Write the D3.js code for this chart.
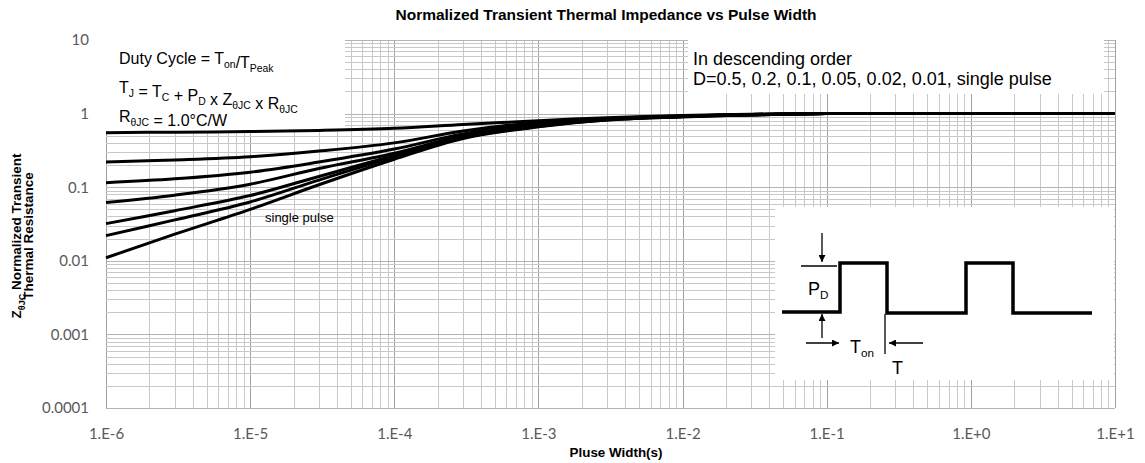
<!DOCTYPE html>
<html>
<head>
<meta charset="utf-8">
<script src="https://cdn.jsdelivr.net/npm/d3@7"></script>
<style>
  html, body { margin: 0; padding: 0; background: #fff; }
  svg { display: block; }
</style>
</head>
<body>
<svg id="chart" width="1145" height="463"></svg>
<script>
// ---------- data ----------
const pulseWidth = [1e-6, 3e-6, 1e-5, 3e-5, 1e-4, 3e-4, 1e-3, 3e-3, 1e-2, 3e-2, 1e-1, 1, 10];
const dutyLabels = ["0.5", "0.2", "0.1", "0.05", "0.02", "0.01", "single pulse"];
const zD050 = [0.55, 0.56, 0.57, 0.59, 0.63, 0.71, 0.80, 0.88, 0.94, 0.98, 1.0, 1.0, 1.0];
const zD020 = [0.22, 0.235, 0.26, 0.31, 0.40, 0.58, 0.76, 0.86, 0.93, 0.97, 1.0, 1.0, 1.0];
const zD010 = [0.115, 0.13, 0.16, 0.22, 0.33, 0.53, 0.72, 0.85, 0.92, 0.97, 1.0, 1.0, 1.0];
const zD005 = [0.062, 0.078, 0.11, 0.18, 0.29, 0.50, 0.70, 0.84, 0.92, 0.97, 1.0, 1.0, 1.0];
const zD002 = [0.032, 0.048, 0.077, 0.14, 0.27, 0.48, 0.68, 0.83, 0.91, 0.96, 1.0, 1.0, 1.0];
const zD001 = [0.022, 0.036, 0.063, 0.125, 0.256, 0.47, 0.67, 0.82, 0.91, 0.96, 1.0, 1.0, 1.0];
const zSingle = [0.011, 0.023, 0.050, 0.108, 0.24, 0.46, 0.66, 0.82, 0.90, 0.96, 1.0, 1.0, 1.0];
const seriesValues = [zD050, zD020, zD010, zD005, zD002, zD001, zSingle];

const xTickValues = [1e-6, 1e-5, 1e-4, 1e-3, 1e-2, 1e-1, 1, 10];
const xTickLabels = ["1.E-6", "1.E-5", "1.E-4", "1.E-3", "1.E-2", "1.E-1", "1.E+0", "1.E+1"];
const yTickValues = [1e-4, 1e-3, 1e-2, 1e-1, 1, 10];
const yTickLabels = ["0.0001", "0.001", "0.01", "0.1", "1", "10"];

// inset waveform (box-local units)
const waveX = [7, 65, 65, 112, 112, 191, 191, 238, 238, 317];
const waveY = [105, 105, 56, 56, 106, 106, 56, 56, 106, 106];

// ---------- layout ----------
const W = 1145, H = 463;
const m = { left: 106, right: 30, top: 40, bottom: 55 };
const svg = d3.select("#chart");

const x = d3.scaleLog().domain([1e-6, 10]).range([m.left, W - m.right]);
const y = d3.scaleLog().domain([1e-4, 10]).range([H - m.bottom, m.top]);

const AX_FONT = "Lato, 'Open Sans', sans-serif";
const TXT_FONT = "'Liberation Sans', Arial, sans-serif";

// ---------- grid ----------
function logGrid(domain) {
  const out = [];
  let d = domain[0];
  while (d < domain[1] * 0.999) {
    for (let k = 1; k <= 9; k++) out.push({ v: k * d, major: k === 1 });
    d *= 10;
  }
  out.push({ v: domain[1], major: true });
  return out;
}
const gGrid = svg.append("g");
gGrid.selectAll("line.v").data(logGrid(x.domain())).join("line")
  .attr("x1", d => Math.round(x(d.v)) + 0.5).attr("x2", d => Math.round(x(d.v)) + 0.5)
  .attr("y1", y(10)).attr("y2", y(1e-4))
  .attr("stroke", d => d.major ? "#a0a0a0" : "#c8c8c8").attr("stroke-width", 1);
gGrid.selectAll("line.h").data(logGrid(y.domain())).join("line")
  .attr("y1", d => Math.round(y(d.v)) + 0.5).attr("y2", d => Math.round(y(d.v)) + 0.5)
  .attr("x1", x(1e-6)).attr("x2", x(10))
  .attr("stroke", d => d.major ? "#b4b4b4" : "#c8c8c8").attr("stroke-width", 1);

// ---------- axes ----------
const xAxis = d3.axisBottom(x).tickValues(xTickValues)
  .tickFormat((d, i) => xTickLabels[i]).tickSize(0).tickPadding(20);
const gx = svg.append("g").attr("transform", `translate(0,${y(1e-4)})`).call(xAxis);
gx.select(".domain").remove();
gx.selectAll("text").attr("font-family", AX_FONT).attr("font-size", 15).attr("fill", "#595959");

const yAxis = d3.axisLeft(y).tickValues(yTickValues)
  .tickFormat((d, i) => yTickLabels[i]).tickSize(0).tickPadding(17);
const gy = svg.append("g").attr("transform", `translate(${x(1e-6)},0)`).call(yAxis);
gy.select(".domain").remove();
gy.selectAll("text").attr("font-family", AX_FONT).attr("font-size", 15).attr("fill", "#595959");

// ---------- legend boxes ----------
function sub(textSel, parts, size) {
  parts.forEach(p => {
    if (p.sub) {
      textSel.append("tspan").attr("font-size", size * 0.65).attr("dy", 4).text(p.t);
      textSel.append("tspan").attr("dy", -4).text("");
    } else {
      textSel.append("tspan").text(p.t);
    }
  });
}
svg.append("rect").attr("x", 106).attr("y", 40).attr("width", 239).attr("height", 91).attr("fill", "#fff");
const LF = 16;
const lines1 = [
  [{ t: "Duty Cycle = T" }, { t: "on", sub: 1 }, { t: "/T" }, { t: "Peak", sub: 1 }],
  [{ t: "T" }, { t: "J", sub: 1 }, { t: " = T" }, { t: "C", sub: 1 }, { t: " + P" }, { t: "D", sub: 1 }, { t: " x Z" }, { t: "θJC", sub: 1 }, { t: " x R" }, { t: "θJC", sub: 1 }],
  [{ t: "R" }, { t: "θJC", sub: 1 }, { t: " = 1.0°C/W" }]
];
lines1.forEach((parts, i) => {
  const t = svg.append("text").attr("x", 119).attr("y", 64 + i * 29)
    .attr("font-family", TXT_FONT).attr("font-size", LF).attr("fill", "#000");
  sub(t, parts, LF);
});

svg.append("rect").attr("x", 688).attr("y", 40).attr("width", 416).attr("height", 54).attr("fill", "#fff");
svg.append("text").attr("x", 693).attr("y", 65).attr("font-family", TXT_FONT).attr("font-size", 18)
  .text("In descending order");
svg.append("text").attr("x", 693).attr("y", 85).attr("font-family", TXT_FONT).attr("font-size", 18)
  .text("D=" + dutyLabels.join(", "));

// ---------- curves ----------
const line = d3.line().x(d => x(d[0])).y(d => y(d[1])).curve(d3.curveCatmullRom.alpha(0.5));
svg.append("g").selectAll("path").data(seriesValues).join("path")
  .attr("d", vals => line(pulseWidth.map((p, i) => [p, vals[i]])))
  .attr("fill", "none").attr("stroke", "#000").attr("stroke-width", 3);

svg.append("text").attr("x", 265).attr("y", 222).attr("font-family", TXT_FONT).attr("font-size", 13)
  .attr("fill", "#000").text("single pulse");

// ---------- inset ----------
const ix = d3.scaleLinear().domain([0, 339]).range([775, 1114]);
const iy = d3.scaleLinear().domain([0, 173]).range([207, 380]);
svg.append("rect").attr("x", ix(0)).attr("y", iy(0)).attr("width", ix(339) - ix(0)).attr("height", iy(173) - iy(0)).attr("fill", "#fff");
svg.append("path").attr("d", d3.line()(waveX.map((v, i) => [ix(v), iy(waveY[i])])))
  .attr("fill", "none").attr("stroke", "#000").attr("stroke-width", 3.5).attr("stroke-linejoin", "miter");

const defs = svg.append("defs");
defs.append("marker").attr("id", "ah").attr("viewBox", "0 0 10 10").attr("refX", 10).attr("refY", 5)
  .attr("markerWidth", 7).attr("markerHeight", 7).attr("markerUnits", "userSpaceOnUse").attr("orient", "auto")
  .append("path").attr("d", "M0,0L10,5L0,10z").attr("fill", "#000");
const thin = [
  { a: [26, 59], b: [62, 59], arrow: false },
  { a: [47, 26], b: [47, 55], arrow: true },
  { a: [47, 131], b: [47, 107], arrow: true },
  { a: [31, 136], b: [64, 136], arrow: true },
  { a: [110, 107], b: [110, 147], arrow: false },
  { a: [148, 136], b: [114, 136], arrow: true }
];
svg.append("g").selectAll("line").data(thin).join("line")
  .attr("x1", d => ix(d.a[0])).attr("y1", d => iy(d.a[1]))
  .attr("x2", d => ix(d.b[0])).attr("y2", d => iy(d.b[1]))
  .attr("stroke", "#000").attr("stroke-width", 1.3)
  .attr("marker-end", d => d.arrow ? "url(#ah)" : null);

const pd = svg.append("text").attr("x", ix(33)).attr("y", iy(88)).attr("font-family", TXT_FONT).attr("font-size", 18);
sub(pd, [{ t: "P" }, { t: "D", sub: 1 }], 18);
const ton = svg.append("text").attr("x", ix(75)).attr("y", iy(146)).attr("font-family", TXT_FONT).attr("font-size", 18);
sub(ton, [{ t: "T" }, { t: "on", sub: 1 }], 18);
svg.append("text").attr("x", ix(117)).attr("y", iy(167)).attr("font-family", TXT_FONT).attr("font-size", 18).text("T");

// ---------- titles ----------
svg.append("text").attr("x", 606).attr("y", 20).attr("text-anchor", "middle")
  .attr("font-family", TXT_FONT).attr("font-weight", "bold").attr("font-size", 15.5)
  .text("Normalized Transient Thermal Impedance vs Pulse Width");
svg.append("text").attr("x", 616).attr("y", 457).attr("text-anchor", "middle")
  .attr("font-family", TXT_FONT).attr("font-weight", "bold").attr("font-size", 13.4)
  .text("Pluse Width(s)");

const yt = svg.append("g").attr("transform", "translate(21,236) rotate(-90)");
const yl1 = yt.append("text").attr("x", 0).attr("y", 0).attr("text-anchor", "middle")
  .attr("font-family", TXT_FONT).attr("font-weight", "bold").attr("font-size", 13.5);
yl1.append("tspan").text("Z");
yl1.append("tspan").attr("font-size", 9).attr("dy", 4).text("θJC");
yl1.append("tspan").attr("dy", -4).text(" Normalized Transient");
yt.append("text").attr("x", 0).attr("y", 12).attr("text-anchor", "middle")
  .attr("font-family", TXT_FONT).attr("font-weight", "bold").attr("font-size", 13.5)
  .text("Thermal Resistance");
</script>
</body>
</html>
